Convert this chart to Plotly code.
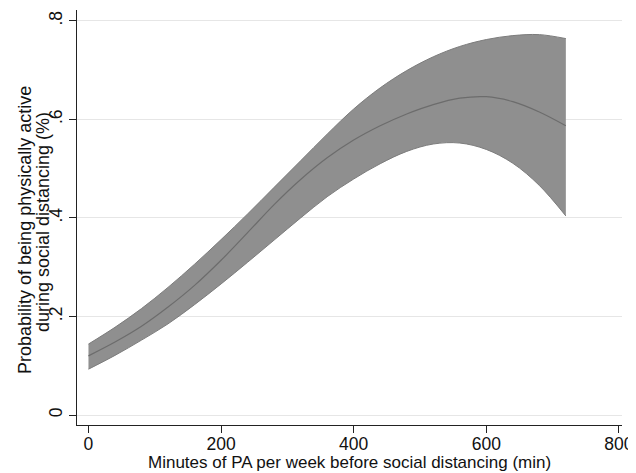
import plotly.graph_objects as go

minutes = [0, 40, 80, 120, 160, 200, 240, 280, 320, 360, 400, 440, 480, 520, 560, 600, 640, 680, 720]
prob_mid = [0.120, 0.148, 0.180, 0.219, 0.263, 0.314, 0.370, 0.427, 0.478, 0.522, 0.558, 0.587, 0.611, 0.630, 0.643, 0.646, 0.636, 0.615, 0.587]
prob_upper = [0.144, 0.178, 0.216, 0.259, 0.306, 0.356, 0.408, 0.462, 0.516, 0.570, 0.621, 0.664, 0.699, 0.727, 0.748, 0.762, 0.770, 0.772, 0.764]
prob_lower = [0.093, 0.121, 0.152, 0.185, 0.224, 0.266, 0.310, 0.355, 0.400, 0.443, 0.479, 0.510, 0.535, 0.550, 0.552, 0.539, 0.511, 0.466, 0.404]

x_ticks = [0, 200, 400, 600, 800]
y_ticks = [0, 0.2, 0.4, 0.6, 0.8]
y_tick_labels = ["0", ".2", ".4", ".6", ".8"]

x_title = "Minutes of PA per week before social distancing (min)"
y_title_lines = ["Probability of being physically active", "during social distancing (%)"]

FONT = "Liberation Sans, Arial, sans-serif"

fig = go.Figure()
fig.add_trace(go.Scatter(
    x=minutes, y=prob_lower, mode="lines", line=dict(color="#7c7c7c", width=1, shape="spline"),
    showlegend=False, hoverinfo="skip"))
fig.add_trace(go.Scatter(
    x=minutes, y=prob_upper, mode="lines", line=dict(color="#7c7c7c", width=1, shape="spline"),
    fill="tonexty", fillcolor="#8f8f8f", showlegend=False, hoverinfo="skip"))
fig.add_trace(go.Scatter(
    x=minutes, y=prob_mid, mode="lines", line=dict(color="#6c6c6c", width=1.2, shape="spline"),
    showlegend=False))

# page body has an 8px default margin, so the figure is sized/offset to compensate
fig.update_layout(
    template="none",
    width=628, height=465,
    margin=dict(l=69, r=14, t=2, b=48, autoexpand=False),
    paper_bgcolor="white", plot_bgcolor="white",
    font=dict(family=FONT, size=17, color="#111111"),
    xaxis=dict(
        range=[-17.3, 804.7], tickmode="array", tickvals=x_ticks,
        showgrid=False, zeroline=False, automargin=False,
        showline=True, linecolor="#222222", linewidth=1,
        ticks="outside", ticklen=7, tickcolor="#222222", tickwidth=1,
        tickfont=dict(size=17.5), ticklabelstandoff=-4,
    ),
    yaxis=dict(
        range=[-0.0203, 0.822], tickmode="array", tickvals=y_ticks, ticktext=y_tick_labels,
        tickangle=-90,
        showgrid=True, gridcolor="#e6e6e6", gridwidth=1, zeroline=False, automargin=False,
        showline=True, linecolor="#222222", linewidth=1,
        ticks="outside", ticklen=7, tickcolor="#222222", tickwidth=1,
        tickfont=dict(size=17.5), ticklabelstandoff=0,
    ),
    annotations=[
        dict(text=x_title, xref="paper", yref="paper", x=0.5, y=-0.0892,
             xanchor="center", yanchor="middle", showarrow=False, font=dict(size=17)),
        dict(text=y_title_lines[0], xref="paper", yref="paper", x=-0.0954, y=0.47,
             xanchor="center", yanchor="middle", textangle=-90, showarrow=False,
             font=dict(size=18)),
        dict(text=y_title_lines[1], xref="paper", yref="paper", x=-0.0624, y=0.489,
             xanchor="center", yanchor="middle", textangle=-90, showarrow=False,
             font=dict(size=18)),
    ],
)

fig.write_html("out.html")
